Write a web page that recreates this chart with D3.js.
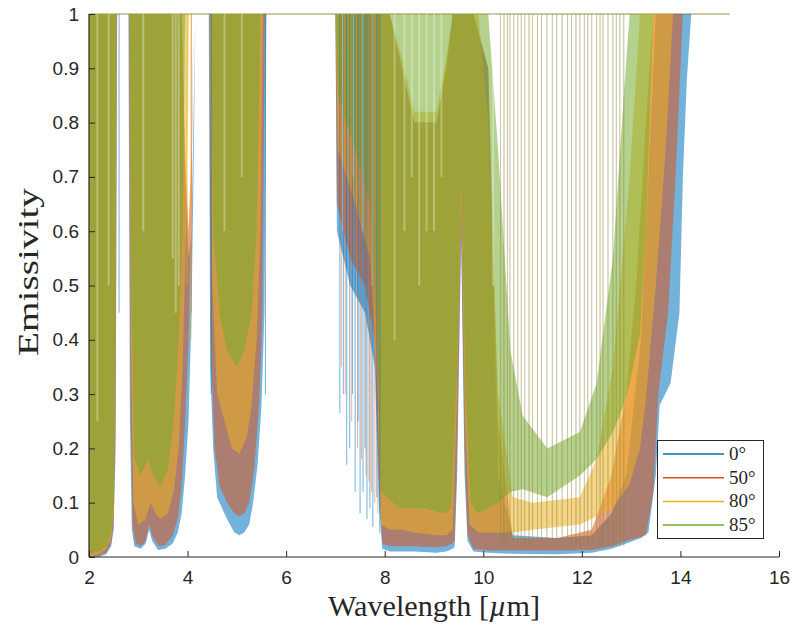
<!DOCTYPE html>
<html><head><meta charset="utf-8">
<script src="https://cdn.jsdelivr.net/npm/d3@7"></script>
<style>body{margin:0;background:#fff}svg{display:block}</style>
</head><body>
<svg id="c" width="795" height="630"></svg>
<script>
// ---- data ----
const angles = ["0°", "50°", "80°", "85°"];
const colors = ["#0072BD", "#D95319", "#EDB120", "#77AC30"];
const xTicks = [2, 4, 6, 8, 10, 12, 14, 16];
const yTicks = [0, 0.1, 0.2, 0.3, 0.4, 0.5, 0.6, 0.7, 0.8, 0.9, 1];
// each entry: [wavelength µm, lower envelope, upper envelope of the dense spectrum]
const s0 = [[2.00,0.000,1],[2.20,0.000,1],[2.35,0.005,1],[2.45,0.020,1],[2.50,0.050,1],[2.54,0.200,1],[2.57,1,1],
[2.80,1,1],[2.83,0.25,1],[2.87,0.05,1],[2.92,0.02,1],[3.05,0.015,1],[3.15,0.025,1],[3.22,0.05,1],[3.28,0.03,1],[3.40,0.013,1],[3.55,0.015,1],[3.70,0.025,1],[3.80,0.045,1],[3.88,0.08,1],[3.95,0.15,0.7],[4.02,0.25,0.55],[4.08,0.45,0.6],[4.12,0.7,0.8],[4.16,1,1],
[4.43,1,1],[4.46,0.35,1],[4.52,0.2,1],[4.60,0.11,1],[4.70,0.09,1],[4.80,0.07,1],[4.95,0.045,1],[5.05,0.04,1],[5.15,0.045,1],[5.25,0.06,1],[5.33,0.10,1],[5.42,0.17,1],[5.50,0.28,1],[5.56,0.45,1],[5.60,1,1],
[7.00,1,1],[7.03,0.6,1],[7.30,0.5,1],[7.60,0.45,1],[7.80,0.35,1],[7.88,0.10,1],[7.95,0.015,1],[8.10,0.010,1],[8.35,0.010,0.9],[8.60,0.010,0.8],[9.05,0.008,0.8],[9.25,0.010,0.9],[9.38,0.015,1],[9.42,0.02,1],[9.47,0.15,1],[9.55,0.58,1],[9.62,0.15,1],[9.68,0.03,1],[9.80,0.010,1],[10.10,0.008,0.9],[10.30,0.007,0.15],[10.60,0.006,0.04],[11.50,0.005,0.035],[12.20,0.008,0.04],[12.60,0.015,0.08],[12.90,0.025,0.15],[13.20,0.035,0.4],[13.35,0.045,0.7],[13.50,0.15,1],[13.58,0.28,1],[13.80,0.32,1],[13.98,0.45,1],[14.05,0.70,1],[14.13,0.88,1],[14.22,1,1],[15.00,1,1]];
const s50 = [[2.00,0.000,1],[2.20,0.002,1],[2.35,0.008,1],[2.45,0.025,1],[2.50,0.06,1],[2.54,0.25,1],[2.57,1,1],
[2.81,1,1],[2.84,0.3,1],[2.88,0.06,1],[2.95,0.025,1],[3.05,0.02,1],[3.15,0.03,1],[3.22,0.06,1],[3.30,0.035,1],[3.42,0.02,1],[3.55,0.022,1],[3.70,0.04,1],[3.80,0.07,1],[3.88,0.13,1],[3.95,0.25,0.75],[4.02,0.40,0.6],[4.08,0.65,0.75],[4.12,1,1],
[4.44,1,1],[4.47,0.4,1],[4.55,0.2,1],[4.65,0.13,1],[4.80,0.10,1],[4.95,0.08,1],[5.05,0.075,1],[5.15,0.08,1],[5.25,0.10,1],[5.35,0.16,1],[5.45,0.28,1],[5.52,0.45,1],[5.57,1,1],
[7.00,1,1],[7.03,0.65,1],[7.30,0.55,1],[7.60,0.5,1],[7.80,0.4,1],[7.88,0.15,1],[7.95,0.025,1],[8.10,0.02,1],[8.35,0.02,0.9],[8.60,0.02,0.8],[9.05,0.018,0.8],[9.25,0.02,0.9],[9.38,0.025,1],[9.42,0.03,1],[9.47,0.2,1],[9.55,0.62,1],[9.62,0.2,1],[9.68,0.04,1],[9.80,0.015,1],[10.10,0.012,0.9],[10.30,0.012,0.25],[10.60,0.012,0.035],[11.50,0.012,0.035],[12.20,0.013,0.05],[12.60,0.02,0.15],[12.90,0.03,0.3],[13.10,0.035,0.5],[13.30,0.04,0.8],[13.45,0.12,1],[13.55,0.30,1],[13.75,0.45,1],[13.90,0.70,1],[14.05,1,1],[15.00,1,1]];
const s80 = [[2.00,0.000,1],[2.20,0.005,1],[2.35,0.015,1],[2.45,0.035,1],[2.50,0.08,1],[2.53,0.3,1],[2.56,1,1],
[2.82,1,1],[2.85,0.4,1],[2.90,0.10,1],[3.00,0.06,1],[3.15,0.07,1],[3.25,0.10,1],[3.35,0.08,1],[3.45,0.07,1],[3.60,0.08,1],[3.72,0.12,1],[3.82,0.20,1],[3.90,0.35,1],[3.97,0.6,1],[4.03,1,1],
[4.45,1,1],[4.50,0.5,1],[4.60,0.3,1],[4.75,0.25,1],[4.90,0.20,1],[5.05,0.19,1],[5.20,0.22,1],[5.30,0.28,1],[5.40,0.40,1],[5.48,0.60,1],[5.53,1,1],
[7.00,1,1],[7.05,0.75,1],[7.40,0.65,1],[7.70,0.55,1],[7.85,0.30,1],[7.92,0.06,1],[8.10,0.05,1],[8.35,0.05,0.92],[8.60,0.045,0.82],[9.05,0.04,0.82],[9.25,0.04,0.92],[9.38,0.05,1],[9.47,0.30,1],[9.55,0.66,1],[9.63,0.25,1],[9.72,0.06,1],[9.90,0.045,1],[10.10,0.045,0.8],[10.30,0.045,0.3],[10.60,0.045,0.11],[11.00,0.05,0.1],[11.96,0.06,0.11],[12.30,0.075,0.18],[12.63,0.09,0.35],[12.97,0.135,0.7],[13.18,0.20,1],[13.30,0.29,1],[13.50,0.50,1],[13.70,0.75,1],[13.85,1,1],[15.00,1,1]];
const s85 = [[2.00,0.005,1],[2.20,0.01,1],[2.35,0.02,1],[2.45,0.045,1],[2.50,0.10,1],[2.53,0.35,1],[2.55,1,1],
[2.82,1,1],[2.86,0.5,1],[2.92,0.18,1],[3.05,0.15,1],[3.20,0.18,1],[3.30,0.15,1],[3.45,0.13,1],[3.60,0.16,1],[3.72,0.25,1],[3.82,0.40,1],[3.90,0.60,1],[3.95,1,1],
[4.46,1,1],[4.52,0.6,1],[4.65,0.45,1],[4.80,0.38,1],[5.00,0.35,1],[5.15,0.38,1],[5.30,0.45,1],[5.40,0.60,1],[5.48,1,1],
[7.00,1,1],[7.05,0.85,1],[7.40,0.75,1],[7.70,0.65,1],[7.85,0.40,1],[7.92,0.12,1],[8.30,0.09,1],[8.80,0.09,1],[9.20,0.08,1],[9.35,0.09,1],[9.47,0.35,1],[9.55,0.70,1],[9.64,0.30,1],[9.74,0.10,1],[9.90,0.08,1],[10.10,0.09,1],[10.30,0.10,0.75],[10.55,0.12,0.38],[10.80,0.125,0.26],[11.30,0.11,0.2],[11.96,0.15,0.23],[12.30,0.18,0.32],[12.63,0.23,0.55],[12.85,0.28,0.85],[12.97,0.32,1],[13.18,0.41,1],[13.30,0.60,1],[13.45,1,1],[15.00,1,1]];
// isolated lines where the spectrum jumps between its envelope and 1: [wavelength, lowest emissivity]
const windowLines = [[10.35,0.02],[10.42,0.02],[10.49,0.02],[10.54,0.02],[10.62,0.02],[10.70,0.02],[10.77,0.02],[10.84,0.02],[10.93,0.02],[11.00,0.02],[11.10,0.02],[11.18,0.02],[11.29,0.02],[11.40,0.02],[11.49,0.02],[11.60,0.02],[11.71,0.02],[11.79,0.02],[11.88,0.02],[11.96,0.02],[12.05,0.02],[12.12,0.02],[12.20,0.02],[12.30,0.02],[12.37,0.02],[12.43,0.02],[12.53,0.02],[12.63,0.02],[12.70,0.02],[12.77,0.02],[12.85,0.02]];
const linesBlue = [[2.61,0.45],[7.09,0.265],[7.16,0.3],[7.23,0.17],[7.29,0.20],[7.35,0.3],[7.40,0.12],[7.46,0.25],[7.50,0.08],[7.56,0.12],[7.60,0.2],[7.64,0.07],[7.70,0.09],[7.76,0.055],[7.84,0.11],[7.90,0.044],[5.58,0.3],[4.48,0.3]];
const linesRed = [[7.12,0.35],[7.20,0.30],[7.33,0.25],[7.45,0.20],[7.53,0.18],[7.62,0.15],[7.68,0.14],[7.73,0.12],[7.80,0.10],[7.86,0.08],[4.08,0.45]];
const linesOrange = [[4.07,0.4],[3.99,0.5]];
// gaps between dense lines (lighter streaks): [wavelength, from, to]
const gaps = [[2.17,0.25,1],[2.40,0.5,1],[3.70,0.55,1],[3.76,0.45,1],[3.82,0.5,1],[3.10,0.6,1],[4.75,0.6,1],[5.1,0.7,1],[7.15,0.6,1],[7.35,0.7,1],[7.55,0.6,1],[7.75,0.5,1],[8.40,0.6,1],[8.55,0.7,1],[8.70,0.5,1],[8.85,0.6,1],[9.00,0.6,1],[9.15,0.7,1],[8.2,0.4,1],[10.2,0.5,1]];
const series = [s0, s50, s80, s85];

// ---- drawing ----
const svg = d3.select("#c");
const x = d3.scaleLinear().domain([2, 16]).range([89, 779]);
const y = d3.scaleLinear().domain([0, 1]).range([557, 14]);
const plot = svg.append("g");

series.forEach((s, i) => {
  plot.append("line").attr("x1", x(2)).attr("x2", x(15)).attr("y1", y(1)).attr("y2", y(1))
    .attr("stroke", colors[i]).attr("stroke-opacity", 0.3).attr("stroke-width", 1.2);
});

const area = d3.area().x(d => x(d[0])).y0(d => y(d[1])).y1(d => y(d[2]));
series.forEach((s, i) => {
  plot.append("path").datum(s).attr("d", area)
    .attr("fill", colors[i]).attr("fill-opacity", 0.55).attr("stroke", "none");
});

function vlines(arr, col, op, w) {
  plot.selectAll(null).data(arr).enter().append("line")
    .attr("x1", d => x(d[0])).attr("x2", d => x(d[0]))
    .attr("y1", d => y(d[1])).attr("y2", d => y(d.length > 2 ? d[2] : 1))
    .attr("stroke", col).attr("stroke-opacity", op).attr("stroke-width", w || 1);
}
vlines(gaps, "#ffffff", 0.3, 2);
vlines(linesBlue, colors[0], 0.55);
vlines(linesRed, colors[1], 0.45);
vlines(linesOrange, colors[2], 0.6);
series.forEach((s, i) => vlines(windowLines, colors[i], 0.16));

// axes
const axCol = "#262626";
const tickFont = "'Liberation Sans', Arial, sans-serif";
const xAxis = svg.append("g").attr("transform", `translate(0,${y(0)})`)
  .call(d3.axisBottom(x).tickValues(xTicks).tickSize(-6).tickPadding(14).tickFormat(d3.format("d")));
const yAxis = svg.append("g").attr("transform", `translate(${x(2)},0)`)
  .call(d3.axisLeft(y).tickValues(yTicks).tickSize(-6).tickPadding(10).tickFormat(d => d === 0 ? "0" : d === 1 ? "1" : d3.format(".1f")(d)));
[xAxis, yAxis].forEach(a => {
  a.select(".domain").attr("stroke", axCol).attr("stroke-width", 1.2);
  a.selectAll(".tick line").attr("stroke", axCol).attr("stroke-width", 1);
  a.selectAll(".tick text").attr("fill", axCol).style("font-family", tickFont).style("font-size", "19px");
});
xAxis.select(".domain").attr("d", `M${x(2)},0H${x(16)}`);
yAxis.select(".domain").attr("d", `M0,${y(0)}V${y(1)}`);

// axis titles
const serif = "'Liberation Serif', 'Times New Roman', serif";
const xl = svg.append("text").attr("x", 434).attr("y", 616).attr("text-anchor", "middle")
  .attr("textLength", 212).attr("lengthAdjust", "spacingAndGlyphs")
  .style("font-family", serif).style("font-size", "29px").attr("fill", axCol);
xl.append("tspan").text("Wavelength [");
xl.append("tspan").style("font-style", "italic").text("µ");
xl.append("tspan").text("m]");
svg.append("text").attr("transform", "translate(38,272) rotate(-90)").attr("text-anchor", "middle")
  .attr("textLength", 168).attr("lengthAdjust", "spacingAndGlyphs")
  .style("font-family", serif).style("font-size", "30px").attr("fill", axCol)
  .text("Emissivity");

// legend
const lg = svg.append("g");
lg.append("rect").attr("x", 657.5).attr("y", 440.5).attr("width", 106).attr("height", 98)
  .attr("fill", "#fff").attr("stroke", axCol).attr("stroke-width", 1);
angles.forEach((a, i) => {
  const yy = 454 + i * 23.7;
  lg.append("line").attr("x1", 663).attr("x2", 724).attr("y1", yy).attr("y2", yy)
    .attr("stroke", colors[i]).attr("stroke-width", 1.5);
  lg.append("text").attr("x", 729).attr("y", yy + 6)
    .style("font-family", serif).style("font-size", "19px").attr("fill", axCol).text(a);
});
</script>
</body></html>
